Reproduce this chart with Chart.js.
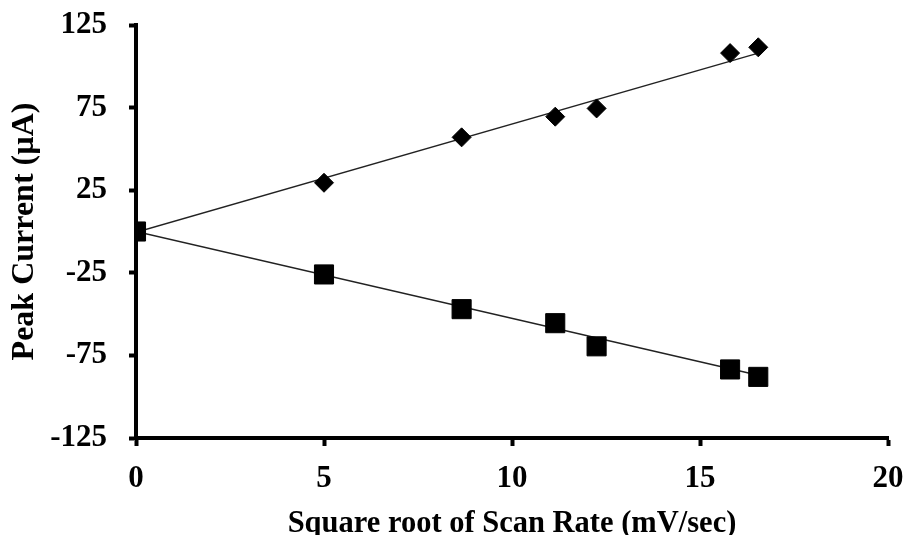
<!DOCTYPE html>
<html lang="en">
<head>
  <meta charset="UTF-8" />
  <title>Peak Current vs Square root of Scan Rate</title>
  <script src="https://cdn.jsdelivr.net/npm/chart.js"></script>
  <style>
    html, body { margin:0; padding:0; background:#fff; }
    #wrap { width:907px; height:535px; position:relative; }
  </style>
</head>
<body>
  <div id="wrap"><canvas id="peakChart"></canvas></div>

  <script>
    // values
    const sqrtScanRate = [0, 5, 8.66, 11.15, 12.25, 15.8, 16.55];
    const anodicPeak = [0, 29.5, 57, 69.5, 74.5, 108, 111.5];
    const cathodicPeak = [0, -26, -47, -55.5, -69.5, -83.5, -88];
    const anodicTrend = [[0, -0.5], [16.55, 108]];
    const cathodicTrend = [[0, 0], [16.55, -87]];
    const xTicks = [0, 5, 10, 15, 20];
    const yTicks = [-125, -75, -25, 25, 75, 125];

    const pts = (xs, ys) => xs.map((x, i) => ({ x: x, y: ys[i] }));
    const line = arr => arr.map(p => ({ x: p[0], y: p[1] }));

    const serif = 'Liberation Serif, "Times New Roman", serif';

    const ctx = document.getElementById('peakChart').getContext('2d');
    new Chart(ctx, {
      type: 'scatter',
      data: {
        datasets: [
          { label: 'Cathodic', data: pts(sqrtScanRate, cathodicPeak), pointStyle: 'rect', pointRadius: 13.5, backgroundColor: '#000', borderColor: '#000', borderWidth: 1 },
          { label: 'Anodic', data: pts(sqrtScanRate, anodicPeak), pointStyle: 'rectRot', pointRadius: 9.5, backgroundColor: '#000', borderColor: '#000', borderWidth: 1 },
          { label: 'Anodic fit', data: line(anodicTrend), showLine: true, pointRadius: 0, borderColor: '#222', borderWidth: 1.4 },
          { label: 'Cathodic fit', data: line(cathodicTrend), showLine: true, pointRadius: 0, borderColor: '#222', borderWidth: 1.4 }
        ]
      },
      options: {
        responsive: true,
        maintainAspectRatio: false,
        animation: false,
        layout: { padding: { top: 25, right: 19, left: 0, bottom: 0 } },
        plugins: { legend: { display: false }, tooltip: { enabled: false } },
        scales: {
          x: {
            type: 'linear',
            min: 0, max: 20,
            afterBuildTicks: s => { s.ticks = xTicks.map(v => ({ value: v })); },
            afterFit: s => { s.height = 97; s.paddingLeft = 0; s.paddingRight = 0; },
            border: { display: true, width: 4, color: '#000' },
            grid: { display: true, drawOnChartArea: false, drawTicks: true, tickLength: 8, tickWidth: 4, tickColor: '#000' },
            ticks: { color: '#000', padding: 14, font: { family: serif, size: 31, weight: 'bold' } },
            title: { display: true, text: 'Square root of Scan Rate (mV/sec)', color: '#000', padding: { top: 4, bottom: -7 }, font: { family: serif, size: 30.5, weight: 'bold' } }
          },
          y: {
            type: 'linear',
            min: -125, max: 125,
            afterBuildTicks: s => { s.ticks = yTicks.map(v => ({ value: v })); },
            afterFit: s => { s.width = 136; s.paddingTop = 0; s.paddingBottom = 0; },
            border: { display: true, width: 4, color: '#000' },
            grid: { display: true, drawOnChartArea: false, drawTicks: true, tickLength: 7, tickWidth: 4, tickColor: '#000' },
            ticks: { color: '#000', padding: 22, font: { family: serif, size: 31, weight: 'bold' } },
            title: { display: true, text: 'Peak Current (µA)', color: '#000', padding: { top: 6, bottom: 0 }, font: { family: serif, size: 32, weight: 'bold' } }
          }
        }
      }
    });
  </script>
</body>
</html>
